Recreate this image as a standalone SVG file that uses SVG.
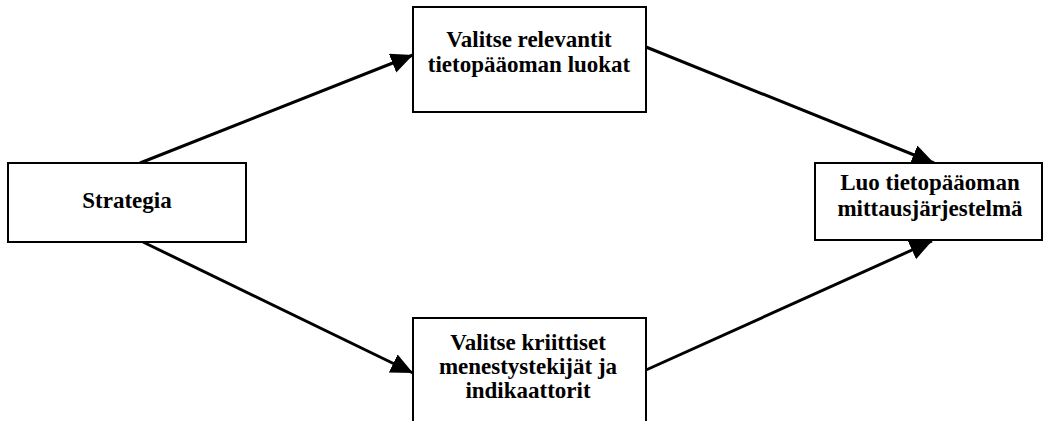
<svg xmlns="http://www.w3.org/2000/svg" width="1045" height="421" viewBox="0 0 1045 421">
  <style>
    .box { fill: #ffffff; stroke: #000000; stroke-width: 2; }
    .lbl { font-family: "Liberation Serif", "Times New Roman", serif; font-size: 23px; font-weight: bold; fill: #000000; text-anchor: middle; }
    .conn { stroke: #000000; stroke-width: 3; fill: none; marker-end: url(#arrow); }
  </style>
  <defs>
    <marker id="arrow" markerUnits="userSpaceOnUse" markerWidth="24" markerHeight="22" refX="22" refY="10" orient="auto">
      <path d="M0,0 L22,10 L0,20 z" fill="#000000"/>
    </marker>
  </defs>
  <rect width="1045" height="421" fill="#ffffff"/>
  <g id="connectors">
    <line class="conn" x1="140" y1="163" x2="413" y2="55"/>
    <line class="conn" x1="646" y1="47" x2="934" y2="163"/>
    <line class="conn" x1="143" y1="242" x2="413" y2="373"/>
    <line class="conn" x1="646" y1="370" x2="932" y2="241"/>
  </g>
  <g id="node-strategia">
    <rect class="box" x="8" y="163" width="238" height="79"/>
    <text class="lbl" x="127" y="208">Strategia</text>
  </g>
  <g id="node-valitse-relevantit">
    <rect class="box" x="413" y="7" width="233" height="105"/>
    <text class="lbl" x="529" y="47">Valitse relevantit</text>
    <text class="lbl" x="529" y="72">tietopääoman luokat</text>
  </g>
  <g id="node-valitse-kriittiset">
    <rect class="box" x="413" y="318" width="233" height="115"/>
    <text class="lbl" x="528" y="350">Valitse kriittiset</text>
    <text class="lbl" x="528" y="374">menestystekijät ja</text>
    <text class="lbl" x="528" y="398">indikaattorit</text>
  </g>
  <g id="node-luo">
    <rect class="box" x="815" y="163" width="227" height="77"/>
    <text class="lbl" x="930" y="190">Luo tietopääoman</text>
    <text class="lbl" x="930" y="216">mittausjärjestelmä</text>
  </g>
</svg>
